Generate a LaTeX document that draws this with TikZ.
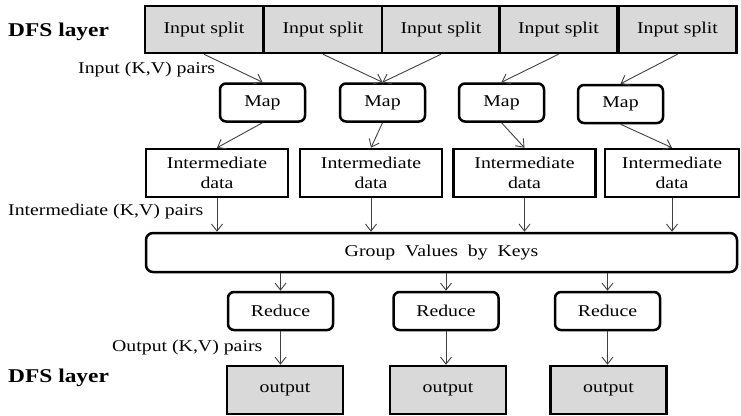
\documentclass[tikz,border=0pt]{standalone}
\usepackage{fontspec}
\setmainfont[FakeStretch=1.2]{Liberation Serif}
\usetikzlibrary{arrows.meta,positioning}
\definecolor{splitgray}{RGB}{217,217,217}
\definecolor{arrowgray}{RGB}{64,64,64}

\begin{document}
\begin{tikzpicture}[
  x=1pt, y=-1pt,
  every node/.style={font=\fontsize{16.5}{20}\selectfont},
  split/.style={draw, line width=2.5pt, fill=splitgray, minimum width=118pt, minimum height=47pt, inner sep=0pt},
  mapbox/.style={draw, line width=2.5pt, rounded corners=6pt, fill=white, minimum width=85pt, minimum height=38pt, inner sep=0pt},
  interbox/.style={draw, line width=2.5pt, minimum height=48pt, align=center, inner sep=0pt},
  redbox/.style={draw, line width=2.5pt, rounded corners=6pt, minimum width=105pt, minimum height=38pt, inner sep=0pt},
  outbox/.style={draw, line width=2.5pt, fill=splitgray, minimum width=116pt, minimum height=48pt, inner sep=0pt},
  layer/.style={font=\fontsize{19.5}{22}\selectfont\bfseries, anchor=west, inner sep=0pt},
  pairs/.style={anchor=west, inner sep=0pt},
  arrow/.style={-{Straight Barb[length=7pt,width=11pt]}, line width=0.9pt, draw=arrowgray}
]
  \useasboundingbox (0,0) rectangle (741,415);

  % DFS input layer
  \node[layer] (dfsin) at (8,32) {DFS layer};
  \node[split] (split1) at (204,29.5) {Input split};
  \node[split] (split2) at (323,29.5) {Input split};
  \node[split] (split3) at (441,29.5) {Input split};
  \node[split] (split4) at (558.5,29.5) {Input split};
  \node[split] (split5) at (677.5,29.5) {Input split};
  \node[pairs] (inpairs) at (78,70) {Input (K,V) pairs};

  % map phase
  \node[mapbox] (map1) at (262.5,102.5) {Map};
  \node[mapbox] (map2) at (382.5,102.5) {Map};
  \node[mapbox] (map3) at (501.5,102.5) {Map};
  \node[mapbox] (map4) at (620.5,104) {Map};

  \node[interbox, minimum width=142pt] (inter1) at (217,173) {Intermediate\\data};
  \node[interbox, minimum width=142pt] (inter2) at (371,173) {Intermediate\\data};
  \node[interbox, minimum width=142pt] (inter3) at (524.5,173) {Intermediate\\data};
  \node[interbox, minimum width=134pt] (inter4) at (672,173) {Intermediate\\data};
  \node[pairs] (interpairs) at (8,212) {Intermediate (K,V) pairs};

  % shuffle
  \node[draw, line width=2.5pt, rounded corners=7pt, minimum width=591pt, minimum height=39pt, inner sep=0pt]
    (group) at (441.5,252.5) {Group~ Values~ by~ Keys};

  % reduce phase
  \node[redbox] (red1) at (280.5,311) {Reduce};
  \node[redbox] (red2) at (446,311) {Reduce};
  \node[redbox] (red3) at (607.5,311) {Reduce};
  \node[pairs] (outpairs) at (112,348) {Output (K,V) pairs};

  % DFS output layer
  \node[layer] (dfsout) at (8,378) {DFS layer};
  \node[outbox] (out1) at (285,390) {output};
  \node[outbox] (out2) at (448,390) {output};
  \node[outbox] (out3) at (608.5,390) {output};

  \draw[arrow] (split1.south) -- (map1.north);
  \draw[arrow] (split2.south) -- (map2.north);
  \draw[arrow] (split3.south) -- (map2.north);
  \draw[arrow] (split4.south) -- (map3.north);
  \draw[arrow] (split5.south) -- (map4.north);

  \draw[arrow] (map1.south) -- (inter1.north);
  \draw[arrow] (map2.south) -- (inter2.north);
  \draw[arrow] (map3.south) -- (inter3.north);
  \draw[arrow] (map4.south) -- (inter4.north);

  \draw[arrow] (inter1.south) -- (inter1.south |- group.north);
  \draw[arrow] (inter2.south) -- (inter2.south |- group.north);
  \draw[arrow] (inter3.south) -- (inter3.south |- group.north);
  \draw[arrow] (inter4.south) -- (inter4.south |- group.north);

  \draw[arrow] (red1.north |- group.south) -- (red1.north);
  \draw[arrow] (red2.north |- group.south) -- (red2.north);
  \draw[arrow] (red3.north |- group.south) -- (red3.north);

  \draw[arrow] (red1.south) -- (red1.south |- out1.north);
  \draw[arrow] (red2.south) -- (red2.south |- out2.north);
  \draw[arrow] (red3.south) -- (red3.south |- out3.north);
\end{tikzpicture}
\end{document}
